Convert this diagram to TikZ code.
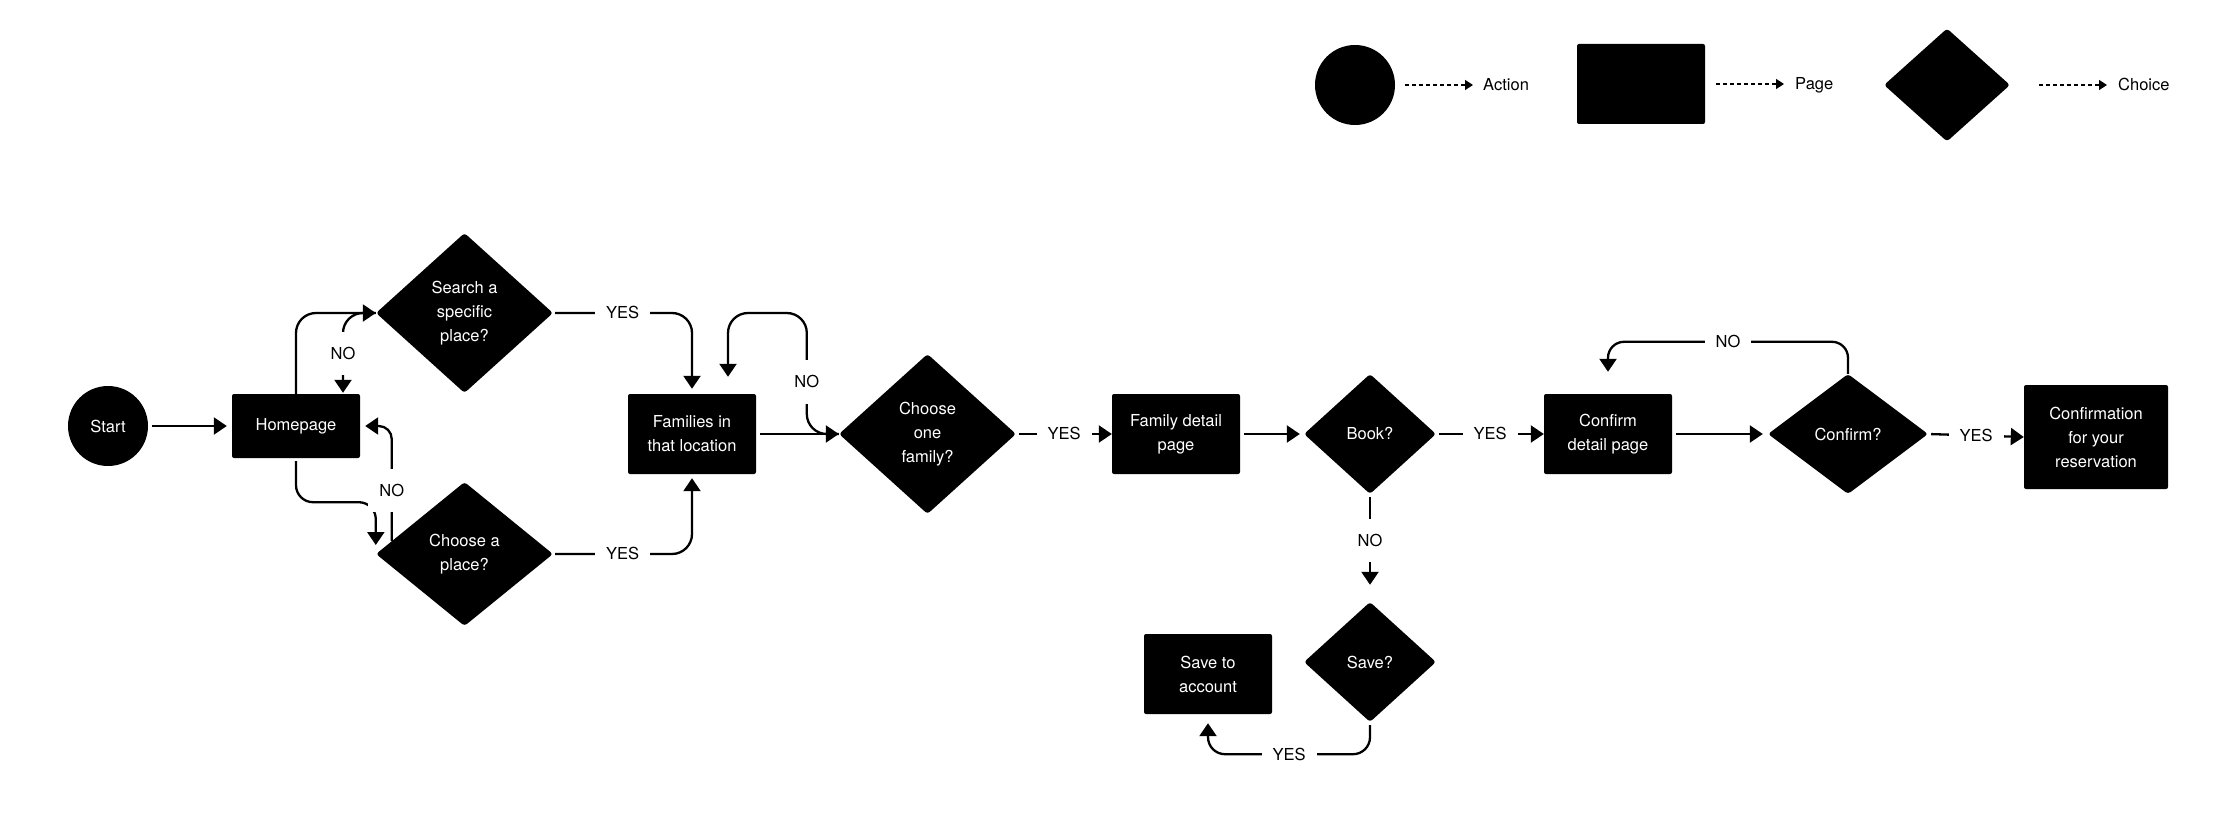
\documentclass[tikz,border=0pt]{standalone}
\usepackage{fontspec}
\setmainfont{TeX Gyre Heros}
\usetikzlibrary{shapes.geometric,arrows.meta,calc}
\begin{document}
\begin{tikzpicture}[x=1pt,y=-1pt,
  every node/.style={font=\fontsize{16.5}{24}\selectfont},
  box/.style={fill=black, text=white, rounded corners=2pt, minimum width=128pt, minimum height=80pt, inner sep=0pt, align=center},
  dia/.style={diamond, fill=black, text=white, rounded corners=3pt, inner sep=0pt, align=center},
  act/.style={circle, fill=black, text=white, minimum size=80pt, inner sep=0pt},
  arr/.style={line width=2.3pt, -{Triangle[length=13pt,width=17pt]}, rounded corners=20pt},
  lbl/.style={fill=white, inner xsep=11pt, inner ysep=16pt, text height=11.8pt, text depth=0pt, rounded corners=0pt},
  legtext/.style={anchor=west, inner sep=0pt, text height=11.8pt, text depth=0pt},
  leg/.style={line width=1.3pt, dash pattern=on 4pt off 3pt, -{Triangle[length=8pt,width=10pt]}}
]
\useasboundingbox (0,0) rectangle (2240,824);

% legend
\node[act] (lc) at (1355,85) {};
\node[legtext] (lct) at (1483,85) {Action};
\node[box] (lr) at (1641,84) {};
\node[legtext] (lrt) at (1795,84) {Page};
\node[dia, minimum width=126pt, minimum height=113pt] (ld) at (1947,85) {};
\node[legtext] (ldt) at (2118,85) {Choice};
\draw[leg, shorten <=10pt, shorten >=10pt] (lc) -- (lct);
\draw[leg, shorten <=11pt, shorten >=11pt] (lr) -- (lrt);
\draw[leg, shorten <=29pt, shorten >=11pt] (ld) -- (ldt);

% nodes
\node[act] (start) at (108,426) {Start};
\node[box, minimum height=64pt] (home) at (296,426) {Homepage};
\node[dia, minimum width=177pt, minimum height=160pt] (search) at (464.5,313) {Search a\\specific\\place?};
\node[dia, minimum width=177pt, minimum height=144pt] (choose) at (464.5,554) {Choose a\\place?};
\node[box] (fam) at (692,434) {Families in\\that location};
\node[dia, minimum width=177pt, minimum height=160pt] (one) at (927.5,434) {Choose\\one\\family?};
\node[box] (detail) at (1176,434) {Family detail\\page};
\node[dia, minimum width=132pt, minimum height=120pt] (book) at (1370,434) {Book?};
\node[dia, minimum width=132pt, minimum height=120pt] (save) at (1370,662) {Save?};
\node[box] (acct) at (1208,674) {Save to\\account};
\node[box] (cdet) at (1608,434) {Confirm\\detail page};
\node[dia, minimum width=160pt, minimum height=120pt] (conf) at (1848,434) {Confirm?};
\node[box, minimum width=144pt, minimum height=104pt] (final) at (2096,437) {Confirmation\\for your\\reservation};

% connectors
\draw[arr, shorten <=4pt, shorten >=5pt] (start) -- (home);
\draw[arr] (home.north) |- (search.west);
\draw[arr, shorten >=1pt] (search.west) -| node[lbl, pos=0.75]{NO} ($(home.north)+(47,0)$);
\draw[arr, rounded corners=17pt, shorten <=3pt] (home.south) -- ++(0,44) -| ($(choose.west)+(0,-9)$);
\draw[arr, rounded corners=13pt, shorten >=5pt] ($(choose.west)!0.18!(choose.north)$) |- node[lbl, pos=0.22]{NO} (home.east);
\draw[arr, shorten <=2pt, shorten >=5pt] (search.east) -| node[lbl, pos=0.25]{YES} (fam.north);
\draw[arr, shorten <=2pt, shorten >=4pt] (choose.east) -| node[lbl, pos=0.25]{YES} (fam.south);
\draw[arr, shorten <=4pt] (fam.east) -- (one.west);
\draw[arr, shorten >=17pt] (one.west) -| node[lbl, pos=0.715]{NO} ($(one.west)+(-32,-121)$) -| ($(fam.north)+(36,0)$);
\draw[arr, shorten <=3pt] (one.east) -- node[lbl]{YES} (detail.west);
\draw[arr, shorten <=4pt, shorten >=4pt] (detail.east) -- (book.west);
\draw[arr, shorten <=3pt] (book.east) -- node[lbl]{YES} (cdet.west);
\draw[arr, shorten <=3pt, shorten >=17pt] (book.south) -- node[lbl, pos=0.43]{NO} (save.north);
\draw[arr, rounded corners=17pt, shorten <=3pt, shorten >=9pt] (save.south) -- ++(0,32) -| node[lbl, pos=0.25]{YES} (acct.south);
\draw[arr, shorten <=4pt, shorten >=5pt] (cdet.east) -- (conf.west);
\draw[arr, rounded corners=16pt, shorten >=22pt] (conf.north) -- ++(0,-32) -| node[lbl, pos=0.25]{NO} (cdet.north);
\draw[arr, shorten <=3pt] (conf.east) -- node[lbl]{YES} (final.west);
\end{tikzpicture}
\end{document}
